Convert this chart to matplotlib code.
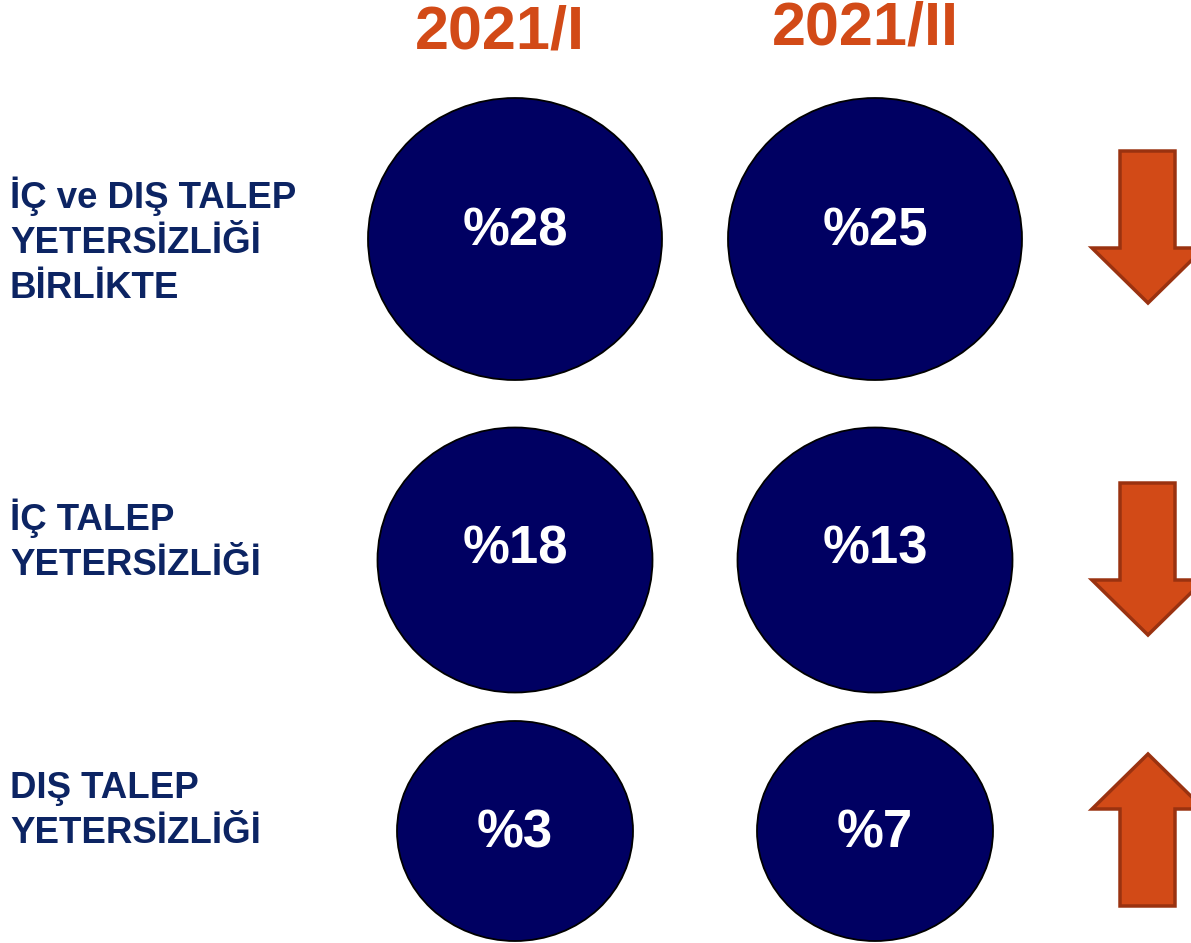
import matplotlib.pyplot as plt
from matplotlib.patches import Ellipse, Polygon

# data
periods = ['2021/I', '2021/II']
rows = [['İÇ ve DIŞ TALEP', 'YETERSİZLİĞİ', 'BİRLİKTE'],
        ['İÇ TALEP', 'YETERSİZLİĞİ'],
        ['DIŞ TALEP', 'YETERSİZLİĞİ']]
vals_1 = [28, 18, 3]
vals_2 = [25, 13, 7]

# layout (pixels, y down)
col_x = [515, 875]
title_x = [500, 865]
title_base = [48, 44]
row_y = [239, 560, 831]
circ_w = [294, 275, 236]
circ_h = [282, 265, 220]
pct_base = [245, 563, 847]
label_base = [208, 530, 798]
line_gap = 45
arrow_y = [227, 559, 830]

navy = '#000062'
orange = '#D24A17'
label_col = '#0C2463'

plt.rcParams['font.family'] = ['Liberation Sans', 'DejaVu Sans']

fig = plt.figure(figsize=(11.91, 9.43), dpi=100)
ax = fig.add_axes([0, 0, 1, 1])
ax.set_xlim(0, 1191)
ax.set_ylim(943, 0)
ax.axis('off')

for j, p in enumerate(periods):
    ax.text(title_x[j], title_base[j], p, ha='center', va='baseline',
            fontsize=44, fontweight='bold', color=orange)

for i, lines in enumerate(rows):
    for k, line in enumerate(lines):
        ax.text(10, label_base[i] + k * line_gap, line, ha='left', va='baseline',
                fontsize=26.4, fontweight='bold', color=label_col)
    for j, v in enumerate([vals_1[i], vals_2[i]]):
        ax.add_patch(Ellipse((col_x[j], row_y[i]), circ_w[i], circ_h[i],
                             facecolor=navy, edgecolor='black', lw=1.3))
        ax.text(col_x[j], pct_base[i], '%' + str(v), ha='center',
                va='baseline', fontsize=38, fontweight='bold', color='white')
    # arrow direction from the change between the two periods
    d = 1 if vals_2[i] < vals_1[i] else -1
    cy = arrow_y[i]
    half, head = 76, 55
    top = cy - d * half
    tip = cy + d * half
    base = tip - d * head
    pts = [(1120, top), (1175, top), (1175, base), (1204, base),
           (1148, tip), (1092, base), (1120, base)]
    ax.add_patch(Polygon(pts, closed=True, facecolor=orange,
                         edgecolor='#9A3210', lw=2.5))

fig.savefig('out.png', dpi=100)
